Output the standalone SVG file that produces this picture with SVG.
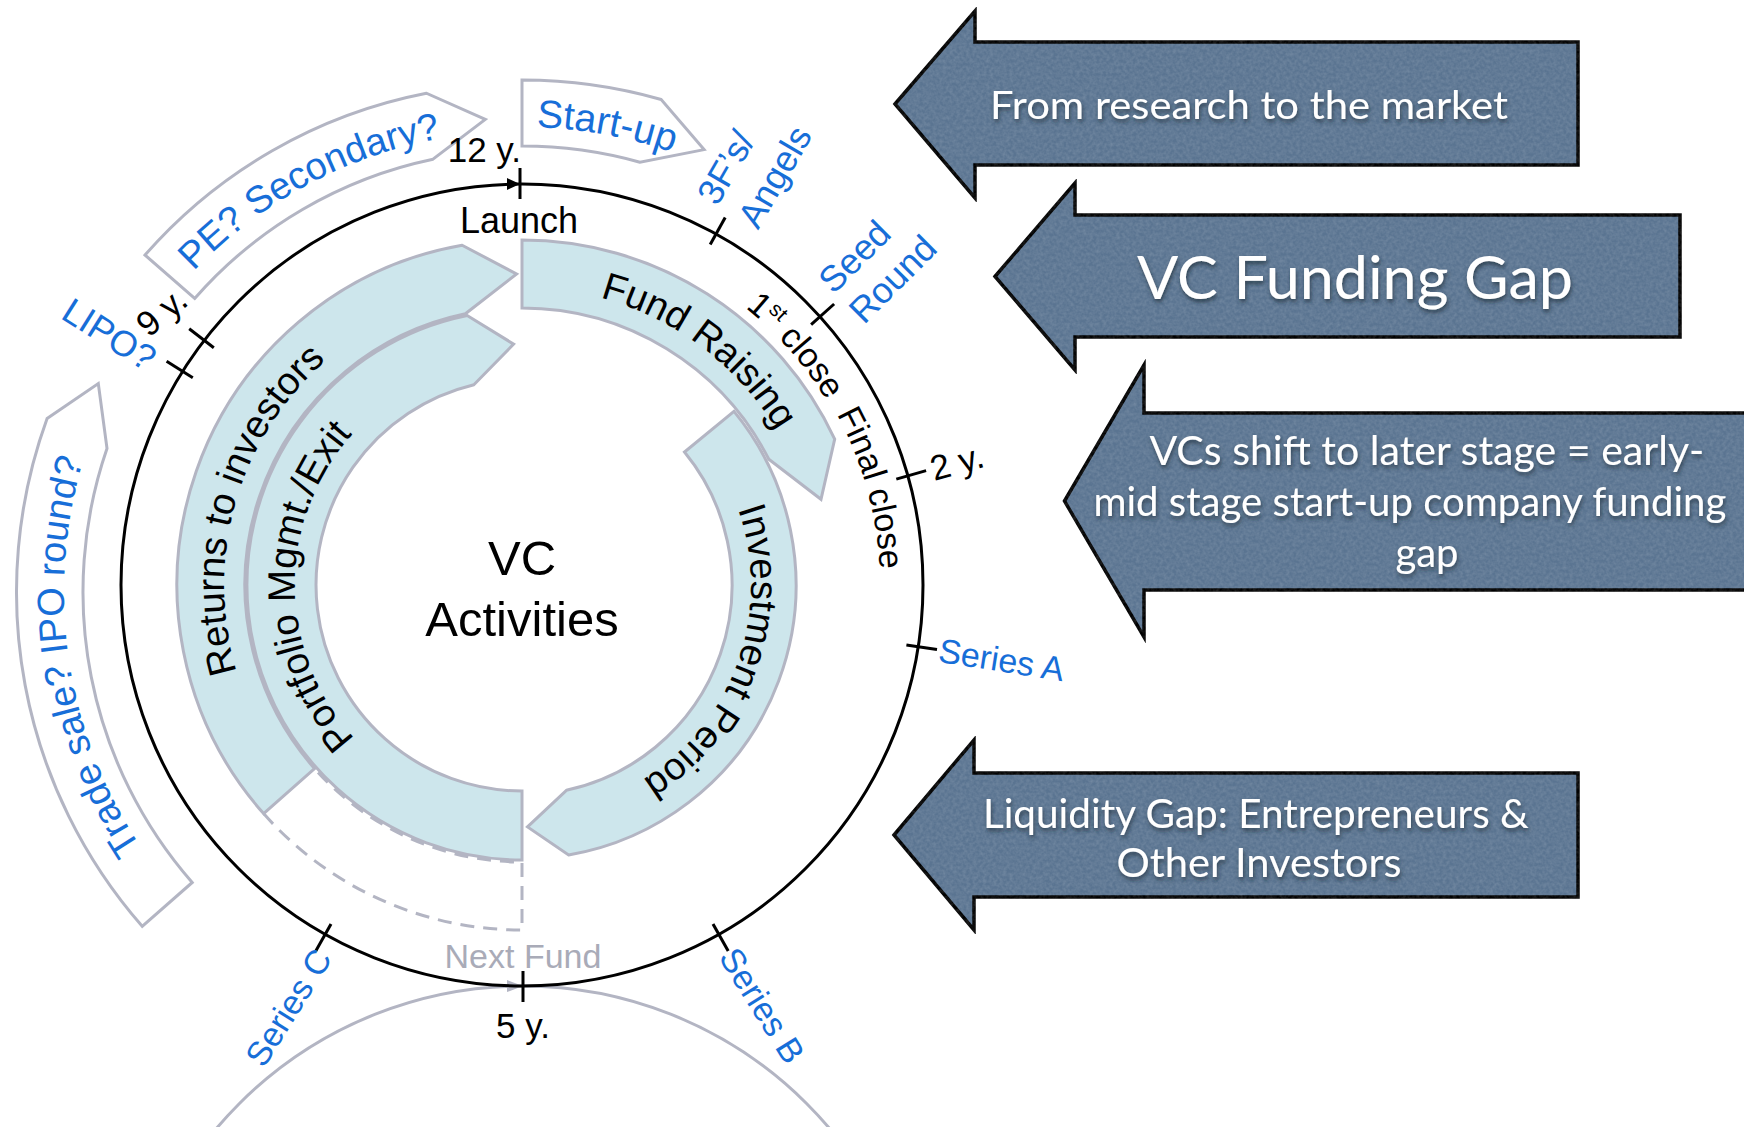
<svg xmlns="http://www.w3.org/2000/svg" width="1744" height="1127" viewBox="0 0 1744 1127">
<defs>
<style>
.band{fill:#cde6ec;stroke:#b3b5c3;stroke-width:3;stroke-linejoin:miter}
.oband{fill:#ffffff;stroke:#b3b5c3;stroke-width:3;stroke-linejoin:miter}
.dash{fill:none;stroke:#b3b5c3;stroke-width:3;stroke-dasharray:14 9}
.t{font-family:"Liberation Sans",Arial,Helvetica,sans-serif}
.btxt{font-size:38.5px;fill:#000}
.blue{fill:#176ed8}
.lbl{font-size:35px;fill:#000}
.arrow{fill:#5a7491;stroke:#000;stroke-width:3.5;stroke-linejoin:miter}
.atxt{font-family:Lato,"Open Sans","Noto Sans",sans-serif;fill:#fff;text-anchor:middle}
.tick{stroke:#000;stroke-width:3;fill:none}
.ring{fill:none;stroke:#000;stroke-width:3}
.gring{fill:none;stroke:#b3b5c3;stroke-width:3}
</style>
<filter id="sh" x="-10%" y="-40%" width="120%" height="180%">
<feDropShadow dx="1" dy="3" stdDeviation="2" flood-color="#1b2533" flood-opacity="0.7"/>
</filter>
<filter id="tex" x="-2%" y="-2%" width="104%" height="104%" color-interpolation-filters="sRGB">
<feTurbulence type="fractalNoise" baseFrequency="0.3" numOctaves="2" seed="7" result="n"/>
<feColorMatrix in="n" type="matrix" values="0 0 0 0 1  0 0 0 0 1  0 0 0 0 1  0.22 0 0 0 -0.06" result="w"/>
<feComposite in="w" in2="SourceGraphic" operator="in" result="wi"/>
<feMerge><feMergeNode in="SourceGraphic"/><feMergeNode in="wi"/></feMerge>
</filter>
<path id="pFR" d="M506.4,287.4 A298,298 0 0 1 812.4,518"/>
<path id="pIP" d="M696.1,436.3 A229,229 0 0 1 563.7,810.2"/>
<path id="pRI" d="M307.6,792 A298,298 0 0 1 449.9,295.9"/>
<path id="pPM" d="M410.2,782.6 A227,227 0 0 1 406.8,389.4"/>
<path id="pSU" d="M442.5,134 A458,458 0 0 1 757.9,192.4"/>
<path id="pPE" d="M128.8,358 A454,454 0 0 1 548.9,131.8"/>
<path id="pTS" d="M190.3,908.7 A460,460 0 0 1 112.3,386.7"/>
<path id="p1C" d="M636.7,248 A356,356 0 0 1 871.2,515.9"/>
<path id="pFC" d="M772.9,329.6 A358,358 0 0 1 868.6,674.6"/>
</defs>
<rect width="1744" height="1127" fill="#ffffff"/>

<!-- right-hand gap arrows -->
<g id="arrow-research">
<path class="arrow" filter="url(#tex)" d="M895,104 L975,11 L975,42 L1578,42 L1578,165 L975,165 L975,198 Z"/>
<text class="atxt" x="1249" y="119" font-size="38" textLength="518" lengthAdjust="spacingAndGlyphs" filter="url(#sh)">From research to the market</text>
</g>
<g id="arrow-vcgap">
<path class="arrow" filter="url(#tex)" d="M995,276.5 L1075,183 L1075,215 L1680,215 L1680,337 L1075,337 L1075,370 Z"/>
<text class="atxt" x="1355" y="299" font-size="60" textLength="436" lengthAdjust="spacingAndGlyphs" filter="url(#sh)">VC Funding Gap</text>
</g>
<g id="arrow-shift">
<path class="arrow" filter="url(#tex)" d="M1064.5,501 L1144,365 L1144,413 L1760,413 L1760,590 L1144,590 L1144,637 Z"/>
<text class="atxt" font-size="40" filter="url(#sh)">
<tspan x="1432" y="465" textLength="555" lengthAdjust="spacingAndGlyphs">VCs shift to later stage = early-</tspan>
<tspan x="1415" y="516" textLength="633" lengthAdjust="spacingAndGlyphs">mid stage start-up company funding</tspan>
<tspan x="1427" y="567">gap</tspan>
</text>
</g>
<g id="arrow-liquidity">
<path class="arrow" filter="url(#tex)" d="M894,835 L974,740 L974,773 L1578,773 L1578,897 L974,897 L974,930 Z"/>
<text class="atxt" font-size="40" filter="url(#sh)">
<tspan x="1261" y="828" textLength="546" lengthAdjust="spacingAndGlyphs">Liquidity Gap: Entrepreneurs &amp;</tspan>
<tspan x="1259" y="877" textLength="285" lengthAdjust="spacingAndGlyphs">Other Investors</tspan>
</text>
</g>

<!-- outer option arrows -->
<g id="startup">
<path class="oband" d="M522,80 A505,505 0 0 1 661.2,99.5 L704.1,149.6 L640,162.2 A439,439 0 0 0 522,146 Z"/>
<text class="t blue" font-size="39" text-anchor="middle"><textPath href="#pSU" startOffset="50%">Start-up</textPath></text>
</g>
<g id="pe-secondary">
<path class="oband" d="M145,255 A501,501 0 0 1 426.4,93.2 L485.3,119.4 L433,159.2 A435,435 0 0 0 194.7,298.5 Z"/>
<text class="t blue" font-size="38" text-anchor="middle"><textPath href="#pPE" startOffset="50%">PE? Secondary?</textPath></text>
</g>
<g id="trade-sale">
<path class="oband" d="M142.2,926.3 A507.5,507.5 0 0 1 47.1,418.4 L98.3,383.5 L107,448.4 A441,441 0 0 0 192.2,882.5 Z"/>
<text class="t blue" font-size="38" text-anchor="middle"><textPath href="#pTS" startOffset="50%">Trade sale? IPO round?</textPath></text>
</g>

<!-- next fund cycle -->
<g id="next-fund">
<circle class="gring" cx="523" cy="1387" r="401"/>
<path d="M523,986 L507,980 L507,992 Z" fill="#b3b5c3"/>
<text class="t" x="523" y="968" font-size="34" fill="#a9abb8" text-anchor="middle">Next Fund</text>
</g>

<!-- main cycle ring -->
<g id="cycle">
<circle class="ring" cx="522" cy="585" r="401"/>
<path d="M520,184 L507,178 L507,190 Z" fill="#000"/>
</g>

<!-- connectors: ticks on the ring -->
<g id="ticks">
<line class="tick" x1="520" y1="168" x2="520" y2="199"/>
<line class="tick" x1="710.2" y1="244.5" x2="725.2" y2="217.4"/>
<line class="tick" x1="811.1" y1="324.7" x2="834.1" y2="304"/>
<line class="tick" x1="896.3" y1="479.1" x2="926.1" y2="470.6"/>
<line class="tick" x1="906.4" y1="644.9" x2="937" y2="649.6"/>
<line class="tick" x1="713" y1="923.9" x2="728.2" y2="950.9"/>
<line class="tick" x1="523" y1="971" x2="523" y2="1002"/>
<line class="tick" x1="331" y1="923.9" x2="315.8" y2="950.9"/>
<line class="tick" x1="192.8" y1="377.7" x2="166.6" y2="361.2"/>
<line class="tick" x1="213.8" y1="347.7" x2="189.2" y2="328.8"/>
</g>

<!-- activity bands -->
<g id="returns">
<path class="dash" d="M263.6,813.6 A345,345 0 0 0 522,930 L522,862 A277,277 0 0 1 314.5,768.5"/>
<path class="band" d="M263.6,813.6 A345,345 0 0 1 462.1,245.2 L516.6,274 L465.4,313.8 A277,277 0 0 0 314.5,768.5 Z"/>
<text class="t btxt" text-anchor="middle"><textPath href="#pRI" startOffset="50%">Returns to investors</textPath></text>
</g>
<g id="portfolio">
<path class="band" d="M522,860 A275,275 0 0 1 467.2,315.5 L513.6,344.1 L473.9,384.7 A206,206 0 0 0 522,791 Z"/>
<text class="t btxt" text-anchor="middle"><textPath href="#pPM" startOffset="50%">Portfolio Mgmt./Exit</textPath></text>
</g>
<g id="investment">
<path class="band" d="M734,411.4 A274,274 0 0 1 568.6,855 L527.5,826.9 L566.4,790.3 A210,210 0 0 0 684.5,452 Z"/>
<text class="t btxt" text-anchor="middle"><textPath href="#pIP" startOffset="50%">Investment Period</textPath></text>
</g>
<g id="fund-raising">
<path class="band" d="M522,240 A345,345 0 0 1 834.7,439.2 L821,499.3 L768.8,459.2 A277,277 0 0 0 522,308 Z"/>
<text class="t btxt" text-anchor="middle"><textPath href="#pFR" startOffset="50%">Fund Raising</textPath></text>
</g>

<g id="center">
<text class="t" x="522" y="575" font-size="49" text-anchor="middle">VC</text>
<text class="t" x="522" y="636" font-size="49" text-anchor="middle">Activities</text>
</g>

<!-- ring labels -->
<g id="labels">
<text class="t" x="519" y="233" font-size="36" text-anchor="middle">Launch</text>
<text class="t lbl" x="521" y="162" text-anchor="end">12 y.</text>
<text class="t lbl" transform="translate(930.9,469.3) rotate(-15.8)" dy="0.35em">2 y.</text>
<text class="t lbl" x="523" y="1038" text-anchor="middle">5 y.</text>
<text class="t lbl" transform="translate(148.7,338.3) rotate(-40)">9 y.</text>
<text class="t" font-size="34" text-anchor="middle"><textPath href="#p1C" startOffset="50%">1<tspan dy="-12" font-size="21">st</tspan><tspan dy="12"> close</tspan></textPath></text>
<text class="t" font-size="34" text-anchor="middle"><textPath href="#pFC" startOffset="50%">Final close</textPath></text>
<g transform="translate(727.6,213) rotate(-60)"><text class="t blue" font-size="36"><tspan x="0" y="-12">3F’s/</tspan><tspan x="0" y="35">Angels</tspan></text></g>
<g transform="translate(837.8,300.6) rotate(-45)"><text class="t blue" font-size="36"><tspan x="1" y="-7">Seed</tspan><tspan x="1" y="36">Round</tspan></text></g>
<text class="t blue" font-size="34" transform="translate(939,649.9) rotate(8.85)" dy="0.35em">Series A</text>
<text class="t blue" font-size="34" transform="translate(728.2,950.9) rotate(58)" dy="0.35em">Series B</text>
<text class="t blue" font-size="34" text-anchor="end" transform="translate(322.8,952.2) rotate(-58)" dy="0.35em">Series C</text>
<text class="t blue" font-size="36" text-anchor="end" transform="translate(152.6,361.4) rotate(32.2)" dy="0.35em">LIPO?</text>
</g>
</svg>
